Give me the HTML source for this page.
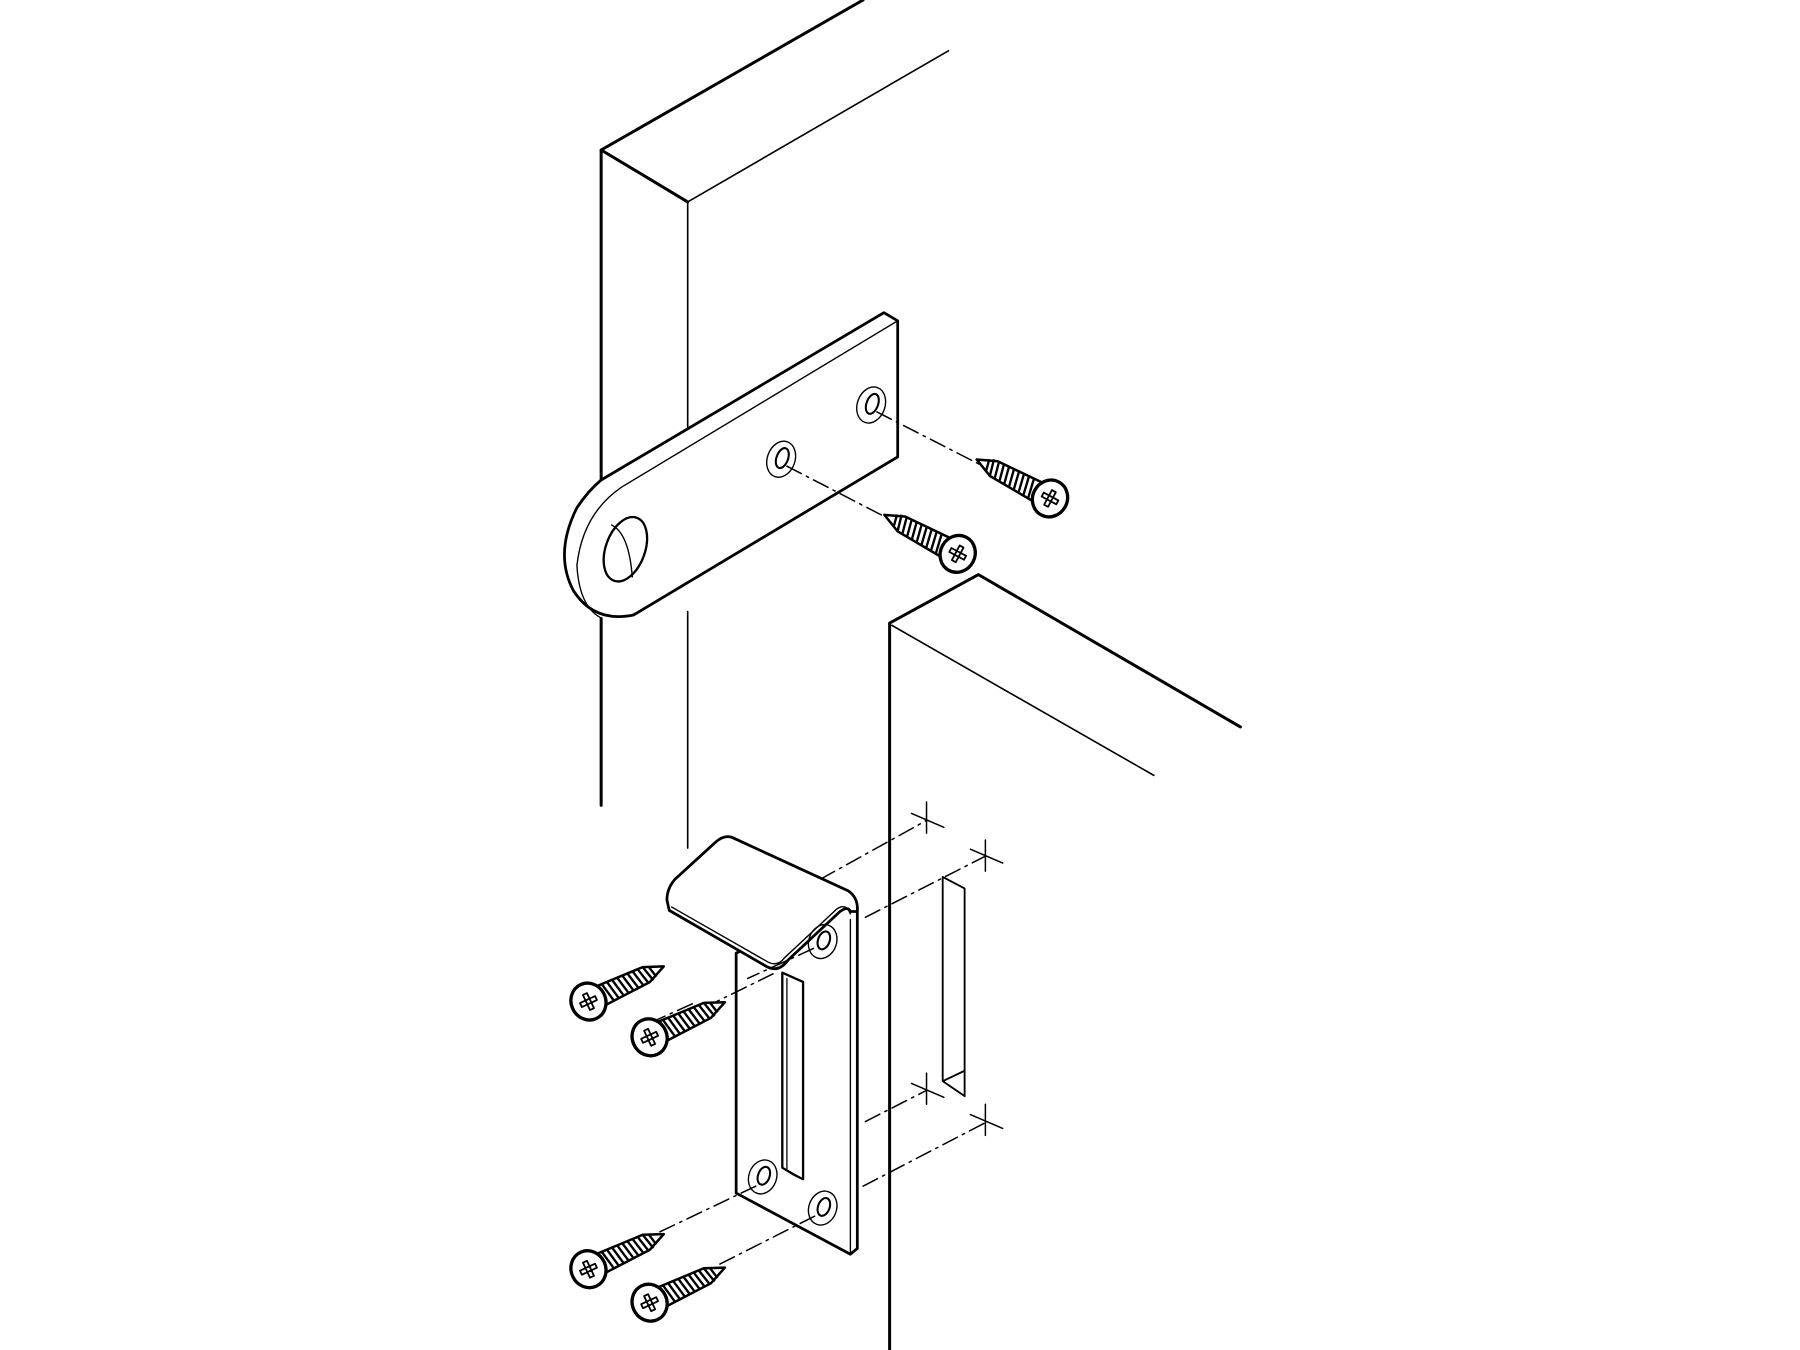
<!DOCTYPE html>
<html><head><meta charset="utf-8"><style>html,body{margin:0;padding:0;background:#fff}svg{display:block}</style></head>
<body>
<svg width="1800" height="1350" viewBox="0 0 1560 1170" xmlns="http://www.w3.org/2000/svg">
<defs>
<g id="screw" fill="#fff" stroke="#000" stroke-linejoin="round">
  <path d="M11,-7.5 L46,-6 L60,0 L46,6 L11,7.5 Z" stroke-width="1.8"/>
  <path d="M14,-7.5 l3,15 M18,-7.5 l3,15 M22,-7.3 l3,14.6 M26,-7.2 l3,14.4 M30,-7 l3,14 M34,-6.8 l3,13.6 M38,-6.6 l3,13.2 M42,-6.3 l3,12.6 M46,-6 l3,12 M50,-4.5 l2,9" stroke-width="1.7" fill="none"/>
  <ellipse cx="0" cy="0" rx="12.5" ry="13.5" stroke-width="2.4"/>
  <path d="M-6,-1.6 h12 v3.2 h-12 z M-1.6,-6 h3.2 v12 h-3.2 z" stroke-width="1.3"/>
</g>
</defs>
<g fill="none" stroke="#000" stroke-linecap="round" stroke-linejoin="round">
<g stroke-width="2.6">
<path d="M748,0 L521,130 L521,416 M521,536 L521,698"/>
<path d="M521,130 L596,175"/>
</g>
<g stroke-width="1.4">
<path d="M596,175 L822,44"/>
<path d="M596,175 L596,373 M596,530 L596,735"/>
</g>
<path d="M766,271 L778,278 L778,396 L549,533 Q515,540 497,512 Q480,480 500,440 Q510,425 521,416 Z" fill="#fff" stroke-width="2.4"/>
<path d="M778,278 L539,422 Q505,445 500,490 Q502,525 520,535" stroke-width="1.2"/>
<ellipse cx="542" cy="476" rx="17" ry="29" transform="rotate(20 542 476)" stroke-width="2"/>
<path d="M530,455 Q545,462 548,500" stroke-width="1.2"/>
<ellipse cx="755" cy="351" rx="12" ry="16" transform="rotate(20 755 351)" stroke-width="1.2"/>
<ellipse cx="756" cy="350" rx="5" ry="9" transform="rotate(20 756 350)" stroke-width="1.8"/>
<ellipse cx="677" cy="398" rx="12" ry="16" transform="rotate(20 677 398)" stroke-width="1.2"/>
<ellipse cx="678" cy="397" rx="5" ry="9" transform="rotate(20 678 397)" stroke-width="1.8"/>
<g stroke-width="1.3" stroke-dasharray="14,5,2,5">
<path d="M760,357 L850,403"/>
<path d="M682,404 L771,450"/>
</g>
<g stroke-width="2.6">
<path d="M771,1170 L771,540 L848,498 L1075,630"/>
</g>
<path d="M773,542 L1000,672" stroke-width="1.4"/>
<path d="M817,760 L836,770 L836,950 M817,760 L817,937 L836,950 M817,937 L836,928" stroke-width="1.6"/>
<g stroke-width="1.3">
<path d="M803,695 L803,722 M790,705 L818,717"/>
<path d="M854,728 L854,755 M841,736 L869,748"/>
<path d="M803,930 L803,957 M790,939 L818,951"/>
<path d="M854,957 L854,984 M841,966 L869,978"/>
</g>
<g stroke-width="1.3" stroke-dasharray="14,5,2,5">
<path d="M711,762 L803,711"/>
<path d="M750,795 L854,742"/>
<path d="M750,972 L803,945"/>
<path d="M748,1028 L854,973"/>
</g>
<path d="M638,826 L638,1034 L737,1087 L743,1082 L743,790 Q740,778 730,782 Z" fill="#fff" stroke-width="2.4"/>
<path d="M737,1087 L737,797" stroke-width="1.2"/>
<path d="M635,726 Q628,723 620,730 L585,762 Q578,770 578,780 L580,789 L665,838 Q675,843 683,832 L728,790 Q735,785 737,790 L743,790 Q744,778 735,772 Z" fill="#fff" stroke-width="2.4"/>
<path d="M582,786 L666,834 Q674,838 680,830 L725,788 Q733,782 737,792" stroke-width="1.2"/>
<path d="M678,843 L696,851 L696,1022 L688,1018 L678,1012 Z" stroke-width="2"/>
<path d="M682,848 L682,1014 L696,1022" stroke-width="1.1"/>
<ellipse cx="713" cy="816" rx="12" ry="15" transform="rotate(20 713 816)" stroke-width="1.2"/>
<ellipse cx="714" cy="815" rx="5" ry="8" transform="rotate(20 714 815)" stroke-width="1.8"/>
<ellipse cx="661" cy="1020" rx="12" ry="15" transform="rotate(20 661 1020)" stroke-width="1.2"/>
<ellipse cx="662" cy="1019" rx="5" ry="8" transform="rotate(20 662 1019)" stroke-width="1.8"/>
<ellipse cx="713" cy="1047" rx="12" ry="15" transform="rotate(20 713 1047)" stroke-width="1.2"/>
<ellipse cx="714" cy="1046" rx="5" ry="8" transform="rotate(20 714 1046)" stroke-width="1.8"/>
<g stroke-width="1.3" stroke-dasharray="14,5,2,5">
<path d="M705,822 L648,848 M600,870 L569,884"/>
<path d="M670,844 L621,868"/>
<path d="M655,1028 L569,1069"/>
<path d="M706,1054 L621,1097"/>
</g>
</g>
<use href="#screw" transform="translate(910,432) rotate(208) scale(1.2)"/>
<use href="#screw" transform="translate(830,480) rotate(208) scale(1.2)"/>
<use href="#screw" transform="translate(510,868) rotate(-25) scale(1.2)"/>
<use href="#screw" transform="translate(563,899) rotate(-25) scale(1.2)"/>
<use href="#screw" transform="translate(510,1100) rotate(-25) scale(1.2)"/>
<use href="#screw" transform="translate(563,1129) rotate(-25) scale(1.2)"/>
</svg>
</body></html>
